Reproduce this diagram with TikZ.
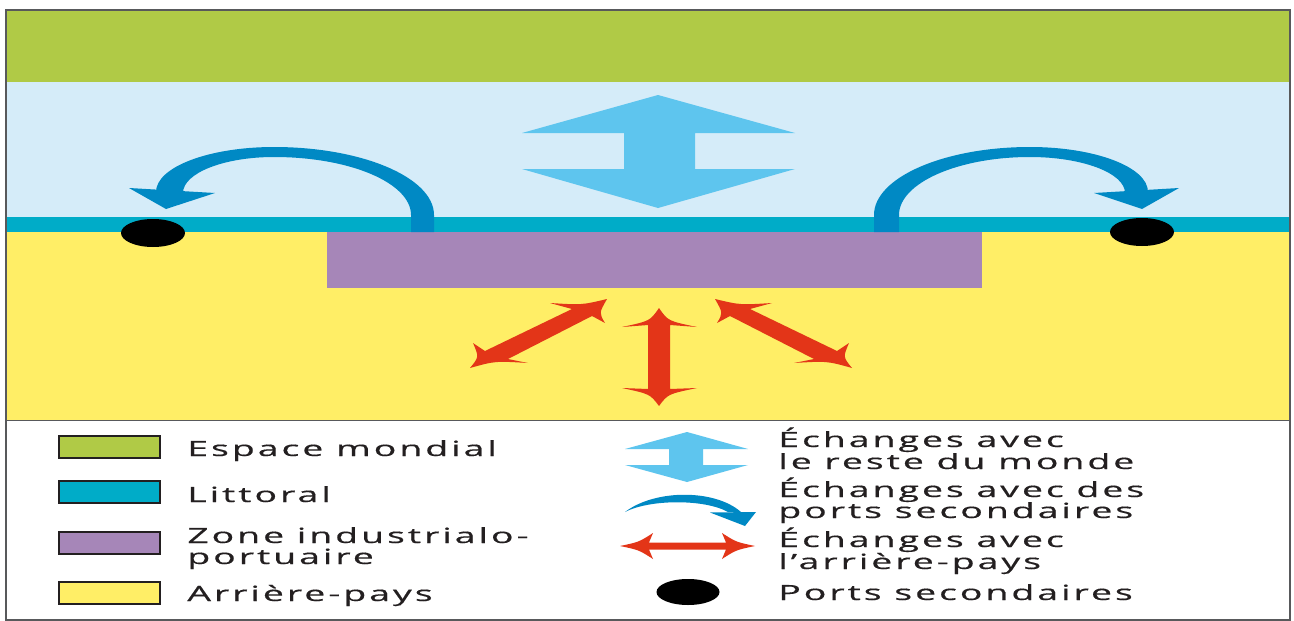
\documentclass[tikz,border=0pt]{standalone}
\usepackage{fontspec}
\usepackage{graphicx}
\usetikzlibrary{shapes.geometric}
\newfontfamily\legfont[LetterSpace=8,FakeBold=0.4]{Open Sans}
\definecolor{cgreen}{RGB}{176,202,70}
\definecolor{csky}{RGB}{213,236,249}
\definecolor{cteal}{RGB}{0,172,200}
\definecolor{cpurple}{RGB}{166,134,184}
\definecolor{cyellow}{RGB}{255,238,102}
\definecolor{clblue}{RGB}{94,197,238}
\definecolor{cdblue}{RGB}{0,137,196}
\definecolor{cred}{RGB}{227,53,24}
\definecolor{cframe}{RGB}{88,89,91}
\definecolor{ctext}{RGB}{35,31,32}
\begin{document}
\begin{tikzpicture}[x=1pt,y=-1pt,
  legtext/.style={anchor=base west, inner sep=0pt, text=ctext,
    font=\legfont\fontsize{21}{21}\selectfont, xscale=1.78},
  swatch/.style={draw=ctext, line width=1.2pt},
  port/.style={ellipse, fill=black, inner sep=0pt, minimum width=64pt, minimum height=28pt}
]
\useasboundingbox (0,0) rectangle (1294,621);
\fill[white] (0,0) rectangle (1294,621);
% map bands
\fill[cgreen] (6,10) rectangle (1290,82);
\fill[csky] (6,82) rectangle (1290,217);
\fill[cteal] (6,217) rectangle (1290,232);
\fill[cyellow] (6,232) rectangle (1290,420);
\fill[cpurple] (327,232) rectangle (982,288);
% world exchanges arrow
\fill[clblue] (658,95) -- (795,133) -- (695,133) -- (695,169) -- (795,169) -- (658,208)
  -- (522,169) -- (624,169) -- (624,133) -- (522,133) -- cycle;
% left curved arrow
\fill[cdblue] (434,232) -- (434,215) .. controls (434,177.5) and (362,147) .. (274,147)
  .. controls (209,147) and (156,167) .. (156,192) -- (183,193)
  .. controls (183,173) and (224,157) .. (274,157)
  .. controls (350,157) and (411,183) .. (411,215) -- (411,232) -- cycle;
\fill[cdblue] (129,188) -- (166,209) -- (215,193) -- cycle;
% right curved arrow
\fill[cdblue] (874,232) -- (874,215) .. controls (874,177.5) and (944,147) .. (1030,147)
  .. controls (1095,147) and (1148,167) .. (1148,192) -- (1125,193)
  .. controls (1125,173) and (1082,157) .. (1030,157)
  .. controls (958,157) and (899,183) .. (899,215) -- (899,232) -- cycle;
\fill[cdblue] (1179,188) -- (1142,209) -- (1094,193) -- cycle;
% ports
\node[port] (p1) at (153,233) {};
\node[port] (p2) at (1142,232) {};
% hinterland arrows
\fill[cred] (659,308) .. controls (668,321) .. (697,327) -- (670,325) -- (670,389) -- (697,388)
  .. controls (668,394) .. (659,406) .. controls (650,394) .. (622,388) -- (648,389) -- (648,325)
  -- (622,327) .. controls (650,321) .. (659,308) -- cycle;
\fill[cred] (607,299) .. controls (582,305) .. (550,303) -- (572,309) -- (485,351) -- (473,343)
  .. controls (479,357) .. (470,368) .. controls (495,361) .. (528,363) -- (508,359) -- (592,316)
  -- (605,323) .. controls (599,313) .. (607,299) -- cycle;
\fill[cred] (715,299) .. controls (740,305) .. (772,303) -- (750,309) -- (837,351) -- (849,343)
  .. controls (843,357) .. (852,368) .. controls (827,361) .. (794,363) -- (814,359) -- (730,316)
  -- (717,323) .. controls (723,313) .. (715,299) -- cycle;
% frame
\draw[cframe, line width=1pt] (6,420) -- (1290,420);
\draw[cframe, line width=2pt] (6,10) rectangle (1290,620);
% legend left
\draw[swatch, fill=cgreen] (59,436) rectangle (160,458);
\draw[swatch, fill=cteal] (59,481) rectangle (160,503);
\draw[swatch, fill=cpurple] (59,532) rectangle (160,554);
\draw[swatch, fill=cyellow] (59,582) rectangle (160,604);
\node[legtext] (t1) at (187,456) {Espace mondial};
\node[legtext] (t2) at (187,502) {Littoral};
\node[legtext] (t3) at (187,543) {Zone industrialo-};
\node[legtext] (t3b) at (187,564) {portuaire};
\node[legtext] (t4) at (187,601) {Arrière-pays};
% legend right symbols
\fill[clblue] (687,432) -- (748,449) -- (703,449) -- (703,465) -- (748,465) -- (687,482)
  -- (625,465) -- (669,465) -- (669,449) -- (625,449) -- cycle;
\fill[cdblue] (625,512) .. controls (655,489) and (715,489) .. (741,512) -- (728,512)
  .. controls (705,499) and (650,499) .. (625,512) -- cycle;
\fill[cdblue] (710,512.5) -- (745,526) -- (756,512) -- cycle;
\fill[cred] (620,546) .. controls (639,542) .. (653,533) -- (649,542.5) -- (726,542.5) -- (722,533)
  .. controls (736,542) .. (755,546) .. controls (736,550) .. (722,559) -- (726,549.5) -- (649,549.5)
  -- (653,559) .. controls (639,550) .. (620,546) -- cycle;
\node[port, minimum width=63pt, minimum height=26pt] (p3) at (688,592) {};
\node[legtext] (r1) at (778,447) {Échanges avec};
\node[legtext] (r1b) at (778,469) {le reste du monde};
\node[legtext] (r2) at (778,497) {Échanges avec des};
\node[legtext] (r2b) at (778,518) {ports secondaires};
\node[legtext] (r3) at (778,547) {Échanges avec};
\node[legtext] (r3b) at (778,569) {l’arrière-pays};
\node[legtext] (r4) at (778,600) {Ports secondaires};
\end{tikzpicture}
\end{document}
